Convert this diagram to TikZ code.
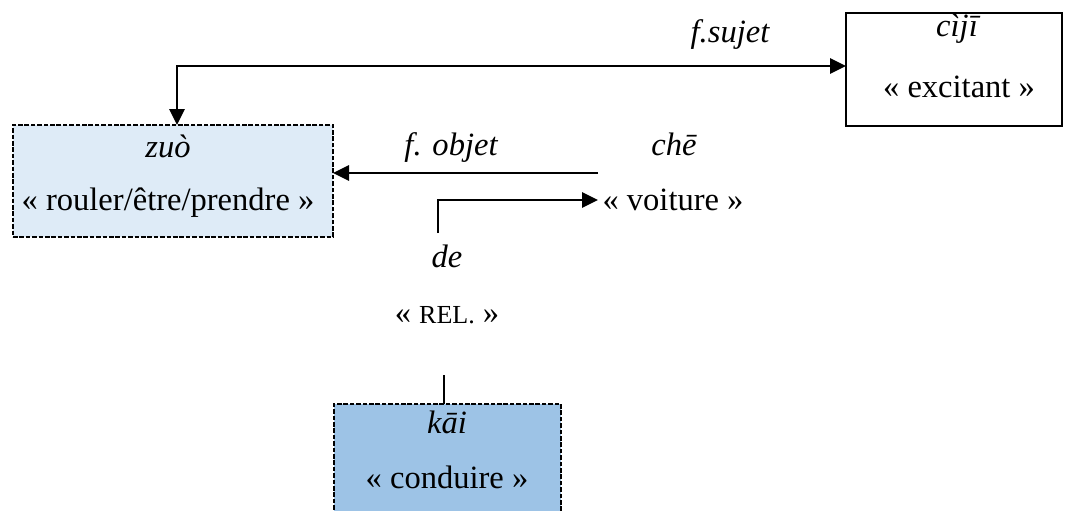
\documentclass[tikz,border=0pt]{standalone}
\usepackage{fontspec}
\setmainfont{Liberation Serif}
\usetikzlibrary{arrows.meta}
\definecolor{lightblue}{HTML}{DEEBF7}
\definecolor{midblue}{HTML}{9DC3E6}
\tikzset{
  txt/.style={inner sep=0pt, outer sep=0pt, anchor=base, font=\fontsize{24.4}{28}\selectfont},
  itxt/.style={txt, font=\fontsize{24.4}{28}\selectfont\itshape},
  plainbox/.style={draw=black, line width=1.5pt, inner sep=0pt, outer sep=0pt},
  dashbox/.style={draw=black, line width=1.7pt, dash pattern=on 3.4pt off 1.4pt, inner sep=0pt, outer sep=0pt},
  conn/.style={line width=1.4pt, draw=black},
  tip/.style={-{Triangle[length=12pt,width=11.5pt]}},
  tips/.style={{Triangle[length=12pt,width=11.5pt]}-{Triangle[length=12pt,width=11.5pt]}},
}
\begin{document}
\begin{tikzpicture}[x=0.75pt,y=-0.75pt]
\useasboundingbox (0,0) rectangle (1073,510);
\clip (0,0) rectangle (1073,510);
% boxes
\node[dashbox, fill=lightblue, minimum width=240pt, minimum height=84pt] (zuobox) at (173,181) {};
\node[plainbox, fill=white, minimum width=162pt, minimum height=84.75pt] (cijibox) at (954,69.5) {};
\node[dashbox, fill=midblue, minimum width=170.25pt, minimum height=102pt] (kaibox) at (447.5,472) {};
% texts
\node[itxt] (zuo1) at (168,157) {zuò};
\node[txt] (zuo2) at (168,210) {« rouler/être/prendre »};
\node[itxt] (ciji1) at (957,37) {cìjī};
\node[txt] (ciji2) at (959,97) {« excitant »};
\node[itxt] (fsujet) at (730,43) {f.sujet};
\node[itxt] (fobjet) at (451,155) {f. objet};
\node[itxt] (che) at (674,155) {chē};
\node[txt] (voiture) at (673,210) {« voiture »};
\node[itxt] (de) at (447,267) {de};
\node[txt] (rel) at (447,323) {« {\fontsize{19.5}{22}\selectfont REL.} »};
\node[itxt] (kai1) at (447,433) {kāi};
\node[txt] (kai2) at (447,488) {« conduire »};
% connector coordinates
\coordinate (fs) at (177,66);
\coordinate (fo) at (598,173);
\coordinate (dstart) at (438,233);
\coordinate (dend) at (598,200);
\coordinate (ktop) at (444,375);
% connectors
\draw[conn, tips] (zuobox.north -| fs) |- (cijibox.west |- fs);
\draw[conn, tip] (fo) -- (fo -| zuobox.east);
\draw[conn, tip] (dstart) |- (dend);
\draw[conn] (ktop) -- (ktop |- kaibox.north);
\end{tikzpicture}
\end{document}
